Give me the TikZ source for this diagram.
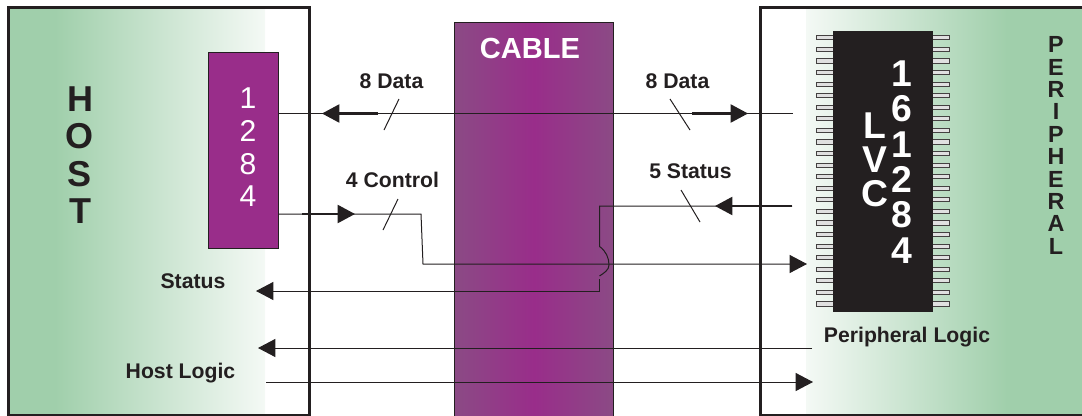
\documentclass[tikz,border=0pt]{standalone}
\usepackage{fontspec}
\setmainfont{Liberation Sans}
\usetikzlibrary{arrows.meta, positioning}
\definecolor{ink}{HTML}{231F20}
\definecolor{plum}{HTML}{992D8A}
\definecolor{dullplum}{HTML}{8B4A85}
\definecolor{mint}{HTML}{A0CFAB}
\definecolor{palemint}{HTML}{F4F9F5}
\tikzset{
  wire/.style={draw=ink,line width=.75pt},
  heavy/.style={draw=ink,line width=1.6pt},
  tip/.style={-{Triangle[length=13pt,width=13.5pt]}},
  frame/.style={draw=ink,line width=2.25pt,inner sep=0pt},
  label/.style={font=\fontsize{15.9}{18}\selectfont\bfseries,text=ink,inner sep=0pt},
  pin/.style={draw=ink!85,fill=black!12,line width=.45pt,minimum width=12.4pt,minimum height=3.1pt,inner sep=0pt},
}
\begin{document}
\begin{tikzpicture}[x=.75pt,y=-.75pt]
  \useasboundingbox (0,0) rectangle (1082,415);
  % backgrounds
  \fill[mint] (9,8) rectangle (55,415);
  \fill[left color=mint,right color=palemint] (55,8) rectangle (265,415);
  \fill[left color=palemint,right color=mint] (806,8) rectangle (1007,415);
  \fill[mint] (1007,8) rectangle (1082,415);
  \fill[left color=dullplum,right color=plum] (455,22) rectangle (534,415);
  \fill[left color=plum,right color=dullplum] (534,22) rectangle (613,415);
  \node[frame,minimum width=225.75pt,minimum height=306.4pt] (host) at (158.5,211.3) {};
  \node[draw=ink,line width=.75pt,minimum width=119.25pt,minimum height=296pt,inner sep=0pt,anchor=north] (cable) at (534,22) {};
  \draw[ink,line width=2.25pt] (1082,7.5) -- (760.5,7.5) -- (760.5,415.5) -- (1082,415.5);
  % wire ends
  \coordinate (d_l) at (322,113.5);
  \coordinate (d_r) at (793,113.5);
  \coordinate (d_a) at (278,113.5);
  \coordinate (d_b) at (378,113.5);
  \coordinate (d_c) at (692,113.5);
  \coordinate (d_d) at (748,113.5);
  \coordinate (c_a) at (276,214);
  \coordinate (c_b) at (302,214);
  \coordinate (c_c) at (355,214);
  \coordinate (c_d) at (421,214);
  \coordinate (c_e) at (423,264);
  \coordinate (c_f) at (807,264);
  \coordinate (s_a) at (792,206);
  \coordinate (s_b) at (735,206);
  \coordinate (s_c) at (715,206);
  \coordinate (s_d) at (599.5,206);
  \coordinate (s_e) at (599.5,246.5);
  \coordinate (s_f) at (599.5,276);
  \coordinate (s_i) at (599.5,279);
  \coordinate (s_g) at (599.5,291);
  \coordinate (s_h) at (256,291);
  \coordinate (l_a) at (812,348);
  \coordinate (l_b) at (258,348);
  \coordinate (l_c) at (266,382);
  \coordinate (l_d) at (813,382);
  % slashes
  \coordinate (t_a) at (399,99);   \coordinate (t_b) at (384,130);
  \coordinate (t_c) at (670,99);   \coordinate (t_d) at (690,130);
  \coordinate (t_e) at (398,199);  \coordinate (t_f) at (383,230);
  \coordinate (t_g) at (681,190);  \coordinate (t_h) at (700,222);
  \path[wire]
    (d_a) edge (d_r)
    (t_a) edge (t_b)
    (t_c) edge (t_d)
    (t_e) edge (t_f)
    (t_g) edge (t_h);
  \draw[wire,tip] (c_a) -- (c_d) -- (c_e) -- (c_f);
  \draw[wire] (s_a) -- (s_d) -- (s_e) .. controls (606,251) and (609,258) .. (609,265) .. controls (609,270) and (604,273) .. (s_f);
  \draw[wire,tip] (s_i) -- (s_g) -- (s_h);
  \draw[wire,tip] (l_a) -- (l_b);
  \draw[wire,tip] (l_c) -- (l_d);
  % thick stubs
  \draw[heavy,tip] (d_b) -- (d_l);
  \draw[heavy,tip] (d_c) -- (d_d);
  \draw[heavy,tip] (c_b) -- (c_c);
  \draw[heavy,tip] (s_b) -- (s_c);
  \draw[heavy] (s_a) -- (s_b);
  % chips
  \node[draw=ink,fill=plum,line width=.75pt,minimum width=52.5pt,minimum height=147pt,inner sep=0pt] (chip_a) at (243,150) {};
  \foreach \i in {0,...,23}
    \node[pin] (pin_l\i) at (825,37.7+11.57*\i) {};
  \foreach \i in {0,...,23}
    \node[pin] (pin_r\i) at (941,37.7+11.57*\i) {};
  \node[draw=ink,fill=ink,minimum width=74.25pt,minimum height=210pt,inner sep=0pt] (chip_b) at (882.5,171) {};
  % letters
  \node[align=center,inner sep=0pt,text=ink,font=\fontsize{27}{28}\selectfont\bfseries] (host_text) at (80,155) {H\\O\\S\\T};
  \node[align=center,inner sep=0pt,text=ink,font=\fontsize{17.5}{16.8}\selectfont\bfseries] (peri_text) at (1056,145.5) {P\\E\\R\\I\\P\\H\\E\\R\\A\\L};
  \node[align=center,inner sep=0pt,text=white,font=\fontsize{22.6}{24.5}\selectfont] (chip_a_text) at (248,147.5) {1\\2\\8\\4};
  \node[align=center,inner sep=0pt,text=white,font=\fontsize{28}{25.5}\selectfont\bfseries] (lvc_text) at (875,160) {L\\V\\C};
  \node[align=center,inner sep=0pt,text=white,font=\fontsize{28}{26.5}\selectfont\bfseries] (num_text) at (902,162) {1\\6\\1\\2\\8\\4};
  \node[inner sep=0pt,text=white,font=\fontsize{21.8}{26}\selectfont\bfseries] (cable_text) at (530,48) {CABLE};
  \node[label] (data_l) at (391.5,81) {8 Data};
  \node[label] (data_r) at (677.5,81) {8 Data};
  \node[label] (ctrl) at (392.5,180) {4 Control};
  \node[label] (stat_r) at (690.5,171) {5 Status};
  \node[label] (stat_l) at (193,281) {Status};
  \node[label] (host_logic) at (180.5,373.5) {Host Logic};
  \node[label] (peri_logic) at (907,337.5) {Peripheral Logic};
\end{tikzpicture}
\end{document}
